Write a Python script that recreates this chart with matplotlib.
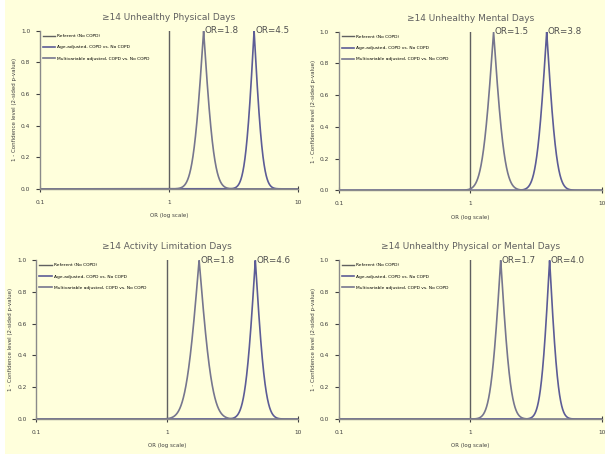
import math
import numpy as np
import matplotlib.pyplot as plt
from matplotlib.patches import Rectangle
from matplotlib.ticker import FixedLocator, FixedFormatter

# Panel titles and the two model estimates per panel (OR, SE of log OR)
titles = ["\u226514 Unhealthy Physical Days",
          "\u226514 Unhealthy Mental Days",
          "\u226514 Activity Limitation Days",
          "\u226514 Unhealthy Physical or Mental Days"]
or_labels = [["OR=1.8", "OR=4.5"],
             ["OR=1.5", "OR=3.8"],
             ["OR=1.8", "OR=4.6"],
             ["OR=1.7", "OR=4.0"]]
or_multi = [1.85, 1.5, 1.75, 1.7]
se_multi = [0.15, 0.155, 0.185, 0.14]
or_age = [4.55, 3.8, 4.7, 4.0]
se_age = [0.125, 0.14, 0.14, 0.122]

legend_labels = ["Referent (No COPD)",
                 "Age-adjusted, COPD vs. No COPD",
                 "Multivariable adjusted, COPD vs. No COPD"]
y_ticks = [0.0, 0.2, 0.4, 0.6, 0.8, 1.0]
x_ticks = [0.1, 1, 10]
x_tick_labels = ["0.1", "1", "10"]

bg = "#FFFFDC"
axis_col = "#8a8a8a"
erfc = np.vectorize(math.erfc)


# 2-sided p-value function for an OR estimate
def p_curve(x, est, se):
    z = np.abs(np.log(x) - np.log(est)) / se
    return erfc(z / math.sqrt(2))


fig = plt.figure(figsize=(6.05, 4.54), dpi=100, facecolor=bg)
# thin white strip on the left edge, like the scanned original
fig.patches.append(Rectangle((0, 0), 0.009, 1, transform=fig.transFigure,
                             facecolor="white", edgecolor="none", zorder=-1))
boxes = [[0.066, 0.584, 0.427, 0.348],
         [0.560, 0.581, 0.435, 0.349],
         [0.060, 0.077, 0.433, 0.350],
         [0.560, 0.077, 0.435, 0.350]]

x = np.logspace(-1, 1, 4000)
for i, box in enumerate(boxes):
    ax = fig.add_axes(box)
    ax.set_facecolor(bg)
    ax.set_xscale("log")
    ax.set_xlim(0.1, 10)
    ax.set_ylim(0, 1)

    ax.plot([1, 1], [0, 1], color="#606060", lw=1.0, label=legend_labels[0])
    ax.plot(x, p_curve(x, or_age[i], se_age[i]), color="#5c5c96", lw=1.2,
            label=legend_labels[1])
    ax.plot(x, p_curve(x, or_multi[i], se_multi[i]), color="#76768e", lw=1.2,
            label=legend_labels[2])

    ax.text(or_multi[i] * 1.02, 1.0, or_labels[i][0], fontsize=6.3,
            color="#505050", va="center", ha="left")
    ax.text(or_age[i] * 1.02, 1.0, or_labels[i][1], fontsize=6.3,
            color="#505050", va="center", ha="left")

    ax.set_title(titles[i], fontsize=6.5, color="#606060", pad=8)
    ax.set_xlabel("OR (log scale)", fontsize=4, color="#404040", labelpad=6)
    ax.set_ylabel("1 - Confidence level (2-sided p-value)", fontsize=4,
                  color="#404040", labelpad=3)

    ax.xaxis.set_major_locator(FixedLocator(x_ticks))
    ax.xaxis.set_major_formatter(FixedFormatter(x_tick_labels))
    ax.xaxis.set_minor_locator(FixedLocator([]))
    ax.set_yticks(y_ticks)
    ax.set_yticklabels([f"{v:.1f}" for v in y_ticks])
    ax.tick_params(axis="both", labelsize=4.2, colors="#404040",
                   length=3, width=0.8, direction="out", pad=4)
    ax.tick_params(axis="x", direction="inout", length=4, pad=6)

    for s in ["top", "right"]:
        ax.spines[s].set_visible(False)
    for s in ["left", "bottom"]:
        ax.spines[s].set_color(axis_col)
        ax.spines[s].set_linewidth(1.0)

    ax.legend(loc="upper left", frameon=False, fontsize=3.2,
              handlelength=2.8, labelspacing=1.6, borderaxespad=0.3,
              handletextpad=0.4)

fig.savefig("out.png", dpi=100, facecolor=bg)
